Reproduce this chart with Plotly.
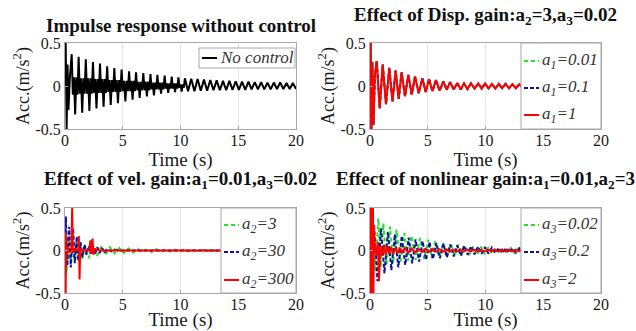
import plotly.graph_objects as go

W, H = 636, 331
FONT = "Liberation Serif"

# ---------------- data ----------------
x_ticks = [0, 5, 10, 15, 20]
y_ticks = [-0.5, 0, 0.5]
y_tick_text = ["-0.5", "0", "0.5"]

# (a) Impulse response without control
nc_head = [(0.0, 0.0), (0.06, 0.50), (0.14, -0.50), (0.22, 0.25), (0.30, -0.28), (0.42, 0.10)]
nc_peak_t = [0.58, 1.18, 1.80, 2.42, 3.03, 3.65, 4.27, 4.90, 5.55, 6.15,
             6.78, 7.40, 8.00, 8.63, 9.24, 9.82, 10.38, 10.93, 11.48, 12.03,
             12.58, 13.13, 13.68, 14.23, 14.78, 15.33, 15.88, 16.43, 16.98, 17.53,
             18.08, 18.63, 19.18, 19.73]
nc_hi = [0.37, 0.34, 0.31, 0.28, 0.26, 0.23, 0.21, 0.19, 0.17, 0.16,
         0.15, 0.14, 0.13, 0.12, 0.11, 0.10, 0.09, 0.085, 0.08, 0.075,
         0.07, 0.065, 0.06, 0.06, 0.055, 0.05, 0.05, 0.045, 0.045, 0.04,
         0.04, 0.04, 0.035, 0.035]
nc_lo = [-0.33, -0.31, -0.29, -0.26, -0.24, -0.22, -0.20, -0.18, -0.16, -0.14,
         -0.12, -0.11, -0.09, -0.08, -0.07, -0.065, -0.06, -0.06, -0.055, -0.055,
         -0.05, -0.05, -0.05, -0.045, -0.045, -0.045, -0.04, -0.04, -0.04, -0.04,
         -0.035, -0.035, -0.035, -0.035]
nc_mid = [0.10, 0.09, 0.09, 0.08, 0.08, 0.07, 0.07, 0.06, 0.06, 0.05,
          0.05, 0.04, 0.04, 0.03, 0.03, 0.02, 0, 0, 0, 0,
          0, 0, 0, 0, 0, 0, 0, 0, 0, 0,
          0, 0, 0, 0]

# (b) Effect of displacement gain (the three curves overlap in the picture)
dg_head = [(0.0, 0.0), (0.05, 0.50), (0.12, -0.50), (0.20, 0.28), (0.30, -0.45), (0.42, 0.12)]
dg_peak_t = [0.58, 1.10, 1.67, 2.22, 2.74, 3.32, 3.90, 4.53, 5.11, 5.71,
             6.35, 6.93, 7.56, 8.14, 8.74, 9.38, 9.97, 10.56, 11.15, 11.74,
             12.33, 12.92, 13.51, 14.10, 14.69, 15.28, 15.87, 16.46, 17.05, 17.64,
             18.23, 18.82, 19.41]
dg_hi = [0.29, 0.25, 0.21, 0.18, 0.16, 0.13, 0.11, 0.09, 0.08, 0.07,
         0.055, 0.045, 0.035, 0.03, 0.03, 0.03, 0.03, 0.025, 0.025, 0.025,
         0.02, 0.02, 0.02, 0.02, 0.02, 0.02, 0.02, 0.02, 0.02, 0.02,
         0.02, 0.02, 0.02]
dg_lo = [-0.26, -0.21, -0.18, -0.15, -0.12, -0.10, -0.085, -0.07, -0.06, -0.055,
         -0.045, -0.04, -0.04, -0.035, -0.03, -0.03, -0.03, -0.03, -0.025, -0.025,
         -0.025, -0.02, -0.02, -0.02, -0.02, -0.02, -0.02, -0.02, -0.02, -0.02,
         -0.02, -0.02, -0.02]

# (c) Effect of velocity gain
vg_a2_3 = [(0, 0), (0.05, 0.10), (0.14, -0.26), (0.30, 0.15), (0.45, -0.12), (0.62, 0.12),
           (0.78, -0.10), (0.95, 0.10), (1.10, -0.10), (1.30, 0.09), (1.50, -0.10), (1.70, 0.07),
           (2.05, -0.09), (2.40, 0.07), (2.75, -0.07), (3.15, 0.05), (3.50, -0.05), (3.90, 0.04),
           (4.30, -0.035), (4.70, 0.03), (5.10, -0.03), (5.50, 0.025), (5.90, -0.025), (6.30, 0.02),
           (6.70, -0.02), (7.10, 0.018), (7.50, -0.018), (7.90, 0.015), (8.30, -0.015), (8.70, 0.012),
           (9.10, -0.012), (9.50, 0.01), (9.90, -0.01), (10.30, 0.01), (10.70, -0.01), (11.10, 0.008),
           (11.50, -0.008), (11.90, 0.008), (12.30, -0.008), (12.70, 0.006), (13.10, -0.006), (20.0, 0)]
vg_a2_30 = [(0, 0), (0.08, 0.40), (0.20, -0.18), (0.37, 0.28), (0.50, -0.20), (0.70, 0.26),
            (0.85, -0.15), (1.02, 0.16), (1.15, -0.12), (1.35, 0.10), (1.50, -0.08), (1.70, 0.07),
            (1.85, -0.05), (2.05, 0.05), (2.20, -0.04), (2.40, 0.05), (2.60, -0.04), (2.80, 0.04),
            (3.00, -0.03), (3.20, 0.03), (3.45, -0.02), (3.70, 0.02), (4.00, -0.01), (4.30, 0.01),
            (4.60, 0), (20.0, 0)]
vg_a2_300 = [(0, 0), (0.03, 0.20), (0.06, -0.50), (0.10, 0.18), (0.15, -0.05), (0.22, 0.05),
             (0.30, -0.02), (0.55, 0.0), (0.62, 0.50), (0.68, -0.03), (0.80, 0.02), (1.15, 0.0),
             (1.20, 0.17), (1.26, -0.34), (1.32, 0.02), (1.50, 0.0), (2.10, 0.0), (2.20, 0.12),
             (2.28, -0.04), (2.38, 0.14), (2.46, -0.05), (2.55, 0.02), (3.00, 0.0), (20.0, 0.0)]

# (d) Effect of nonlinear gain
ng_a3_002_peak_t = [0.72, 1.15, 1.73, 2.30, 2.97, 3.60, 4.33, 5.05, 5.63, 6.35,
                    7.00, 7.65, 8.20, 8.95, 9.60, 10.25, 10.90, 11.55, 12.20, 12.85]
ng_a3_002_hi = [0.38, 0.32, 0.28, 0.245, 0.205, 0.175, 0.147, 0.127, 0.108, 0.09,
                0.08, 0.07, 0.06, 0.05, 0.045, 0.04, 0.035, 0.03, 0.03, 0.025]
ng_a3_002_lo = [-0.20, -0.17, -0.15, -0.13, -0.12, -0.11, -0.10, -0.09, -0.08, -0.07,
                -0.065, -0.06, -0.055, -0.05, -0.045, -0.04, -0.035, -0.03, -0.03, -0.025]
ng_a3_02_peak_t = [0.35, 0.95, 1.55, 2.15, 2.75, 3.35, 3.95, 4.55, 5.15, 5.75,
                   6.35, 6.95, 7.55, 8.15, 8.75, 9.35, 9.95, 10.55, 11.15, 11.75,
                   12.35, 12.95, 13.55]
ng_a3_02_hi = [0.30, 0.26, 0.22, 0.19, 0.17, 0.15, 0.13, 0.11, 0.10, 0.09,
               0.08, 0.07, 0.06, 0.055, 0.05, 0.045, 0.04, 0.035, 0.03, 0.03,
               0.025, 0.025, 0.02]
ng_a3_02_lo = [-0.36, -0.27, -0.23, -0.20, -0.17, -0.15, -0.13, -0.11, -0.10, -0.09,
               -0.08, -0.07, -0.06, -0.05, -0.045, -0.04, -0.035, -0.03, -0.03, -0.025,
               -0.025, -0.02, -0.02]
ng_a3_2 = [(0, 0), (0.03, 0.5), (0.06, -0.5), (0.10, 0.5), (0.14, -0.5), (0.18, 0.5),
           (0.22, -0.5), (0.26, 0.5), (0.30, -0.5), (0.34, 0.3), (0.42, 0.05), (0.55, -0.05),
           (0.68, 0.10), (0.78, -0.36), (0.90, 0.05), (1.05, -0.06), (1.20, 0.07), (1.35, -0.05),
           (1.50, 0.05), (1.65, -0.04), (1.80, 0.04), (2.00, -0.04), (2.20, 0.035), (2.40, -0.035),
           (2.60, 0.03), (2.80, -0.03), (3.00, 0.03), (3.30, -0.025), (3.60, 0.025), (3.90, -0.02),
           (4.20, 0.02), (4.50, -0.02), (4.80, 0.018), (5.10, -0.018), (5.40, 0.016), (5.70, -0.016),
           (6.00, 0.015), (6.30, -0.015), (6.60, 0.014), (6.90, -0.014), (7.20, 0.013), (7.50, -0.013),
           (7.80, 0.012), (8.10, -0.012), (8.40, 0.012), (8.70, -0.012), (9.00, 0.011), (9.30, -0.011),
           (9.60, 0.01), (9.90, -0.01), (10.20, 0.01), (10.50, -0.01), (10.80, 0.01), (11.10, -0.01),
           (11.40, 0.01), (11.70, -0.01), (12.00, 0.01), (12.30, -0.01), (12.60, 0.01), (12.90, -0.01),
           (13.20, 0.01), (20.0, 0.0)]

titles = [
    "Impulse response without control",
    "Effect of Disp. gain:a<sub>2</sub>=3,a<sub>3</sub>=0.02",
    "Effect of vel. gain:a<sub>1</sub>=0.01,a<sub>3</sub>=0.02",
    "Effect of nonlinear gain:a<sub>1</sub>=0.01,a<sub>2</sub>=3",
]
legend_names = [
    ["No control"],
    ["a<sub>1</sub>=0.01", "a<sub>1</sub>=0.1", "a<sub>1</sub>=1"],
    ["a<sub>2</sub>=3", "a<sub>2</sub>=30", "a<sub>2</sub>=300"],
    ["a<sub>3</sub>=0.02", "a<sub>3</sub>=0.2", "a<sub>3</sub>=2"],
]
x_title = "Time (s)"
y_title = "Acc.(m/s<sup>2</sup>)"

# ---------------- helpers ----------------
def unzip(pairs):
    return [p[0] for p in pairs], [p[1] for p in pairs]


def zigzag(head, peak_t, hi, lo, mid=None, tail=None):
    """Join read extrema: each peak followed by its trough half-way to the next peak."""
    xs, ys = unzip(head)
    n = len(peak_t)
    for i in range(n):
        tp = peak_t[i]
        half = ((peak_t[i + 1] - tp) if i + 1 < n else (tp - peak_t[i - 1])) / 2
        m = mid[i] if mid else 0
        xs.append(tp); ys.append(hi[i])
        if m:
            xs += [tp + half / 3, tp + 2 * half / 3]; ys += [-m, m]
        xs.append(tp + half); ys.append(lo[i])
        if m:
            xs += [tp + 4 * half / 3, tp + 5 * half / 3]; ys += [m, -m]
    if tail:
        tx, ty = unzip(tail)
        xs += tx; ys += ty
    return xs, ys


GREEN = "#22e622"
NAVY = "#10109a"
RED = "#ff0000"
BLACK = "#000000"
GREEN_DASH = "4px,3px"
NAVY_DASH = "4px,2px"

series = [
    # panel, name index, xy, color, dash
    (1, 0, zigzag(nc_head, nc_peak_t, nc_hi, nc_lo, nc_mid), BLACK, "solid"),
    (2, 0, zigzag(dg_head, dg_peak_t, dg_hi, dg_lo, tail=[(20.0, 0.0)]), GREEN, GREEN_DASH),
    (2, 1, zigzag(dg_head, dg_peak_t, dg_hi, dg_lo, tail=[(20.0, 0.0)]), NAVY, NAVY_DASH),
    (2, 2, zigzag(dg_head, dg_peak_t, dg_hi, dg_lo, tail=[(20.0, 0.0)]), RED, "solid"),
    (3, 0, unzip(vg_a2_3), GREEN, GREEN_DASH),
    (3, 1, unzip(vg_a2_30), NAVY, NAVY_DASH),
    (3, 2, unzip(vg_a2_300), RED, "solid"),
    (4, 0, zigzag([(0, 0), (0.2, 0.2), (0.45, -0.25)], ng_a3_002_peak_t, ng_a3_002_hi, ng_a3_002_lo,
                  tail=[(20.0, 0.0)]), GREEN, GREEN_DASH),
    (4, 1, zigzag([(0, 0), (0.15, -0.2)], ng_a3_02_peak_t, ng_a3_02_hi, ng_a3_02_lo,
                  tail=[(20.0, 0.0)]), NAVY, NAVY_DASH),
    (4, 2, unzip(ng_a3_2), RED, "solid"),
]

# ---------------- layout geometry (pixels) ----------------
panels = {
    1: dict(x0=65, x1=296, y0=43, y1=129),
    2: dict(x0=370, x1=601, y0=43, y1=129),
    3: dict(x0=65, x1=296, y0=208, y1=293),
    4: dict(x0=370, x1=601, y0=208, y1=293),
}
title_y = {1: 25, 2: 16, 3: 180, 4: 180}
legend_box = {
    1: dict(x0=199, x1=295, y0=48, y1=68, rows=[58]),
    2: dict(x0=521, x1=601, y0=43, y1=129, rows=[61, 88, 115]),
    3: dict(x0=221, x1=296, y0=208, y1=293, rows=[225, 252, 280]),
    4: dict(x0=521, x1=601, y0=208, y1=293, rows=[225, 252, 280]),
}


def px(x):
    return x / W


def py(y):
    return 1 - y / H


fig = go.Figure()

for panel, ni, (xs, ys), color, dash in series:
    suffix = "" if panel == 1 else str(panel)
    fig.add_trace(go.Scatter(
        x=xs, y=ys, mode="lines", name=legend_names[panel - 1][ni],
        line=dict(color=color, width=2, dash=dash),
        xaxis="x" + suffix, yaxis="y" + suffix, showlegend=False, hoverinfo="skip",
    ))

axis_line = "#a8a8a8"
annotations = []
shapes = []
for p, g in panels.items():
    suffix = "" if p == 1 else str(p)
    common = dict(showline=True, linecolor=axis_line, linewidth=1, mirror=True,
                  ticks="inside", ticklen=3, tickcolor=axis_line,
                  showgrid=True, gridcolor="#e6e6e6", gridwidth=1, zeroline=False,
                  tickfont=dict(family=FONT, size=16, color="#1a1a1a"), automargin=False)
    fig.update_layout(**{
        "xaxis" + suffix: dict(common, domain=[px(g["x0"]), px(g["x1"])], range=[0, 20],
                               tickvals=x_ticks, anchor="y" + suffix, ticklabelstandoff=-3,
                               title=dict(text=x_title, standoff=0,
                                          font=dict(family=FONT, size=19, color="#1a1a1a"))),
        "yaxis" + suffix: dict(common, domain=[py(g["y1"]), py(g["y0"])], range=[-0.5, 0.5],
                               tickvals=y_ticks, ticktext=y_tick_text, anchor="x" + suffix,
                               title=dict(text=y_title, standoff=1,
                                          font=dict(family=FONT, size=18, color="#1a1a1a"))),
    })
    annotations.append(dict(
        text="<b>" + titles[p - 1] + "</b>", xref="paper", yref="paper",
        x=px((g["x0"] + g["x1"]) / 2), y=py(title_y[p]), xanchor="center", yanchor="middle",
        showarrow=False, font=dict(family=FONT, size=19, color="#111111"),
    ))
    # legend box
    lb = legend_box[p]
    shapes.append(dict(type="rect", xref="paper", yref="paper", layer="above",
                       x0=px(lb["x0"]), x1=px(lb["x1"]), y0=py(lb["y1"]), y1=py(lb["y0"]),
                       fillcolor="white", line=dict(color=axis_line, width=1)))
    entries = [s for s in series if s[0] == p]
    for (panel, ni, _, color, dash), ry in zip(entries, lb["rows"]):
        sx0 = lb["x0"] + 3
        sx1 = sx0 + 15
        shapes.append(dict(type="line", xref="paper", yref="paper", layer="above",
                           x0=px(sx0), x1=px(sx1), y0=py(ry), y1=py(ry),
                           line=dict(color=color, width=2, dash=dash)))
        annotations.append(dict(
            text="<i>" + legend_names[p - 1][ni] + "</i>", xref="paper", yref="paper",
            x=px(sx1 + 1), y=py(ry), xanchor="left", yanchor="middle", showarrow=False,
            font=dict(family=FONT, size=17, color="#333333"),
        ))

fig.update_layout(
    width=W, height=H, margin=dict(l=0, r=0, t=0, b=0),
    paper_bgcolor="white", plot_bgcolor="white",
    showlegend=False, annotations=annotations, shapes=shapes,
)

fig.write_html("out.html", config={"displayModeBar": False},
               post_script="document.body.style.margin='0';document.body.style.overflow='hidden';")
